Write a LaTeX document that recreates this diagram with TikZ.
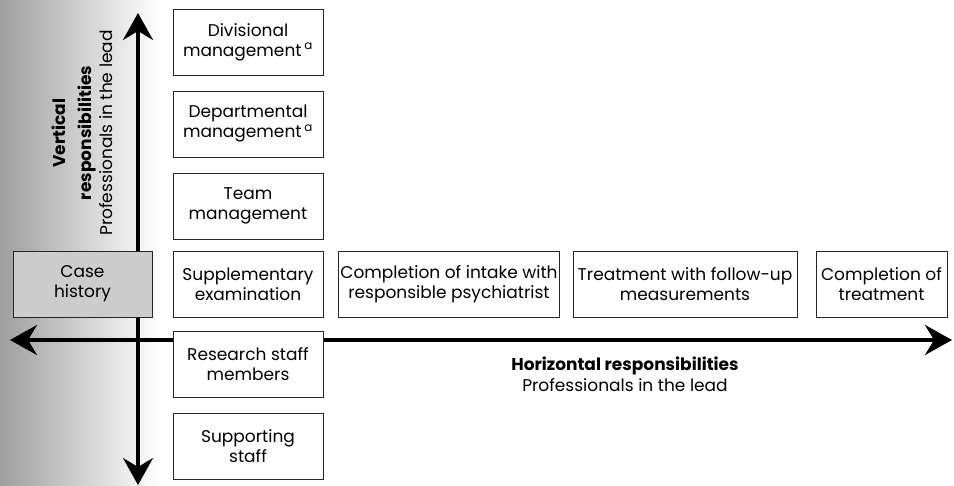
\documentclass[tikz,border=0pt]{standalone}
\usepackage{fontspec}
\setmainfont{Poppins}
\usetikzlibrary{arrows.meta}
\begin{document}
\begin{tikzpicture}[x=1pt,y=-1pt,
    box/.style={draw=black!85, line width=0.9pt, fill=white, align=center, inner sep=2pt,
      minimum height=66pt, font=\fontsize{17}{20}\selectfont},
    colbox/.style={box, minimum width=150pt},
    axis/.style={line width=3.5pt,
      {Stealth[length=27pt,width=30pt,inset=9pt]}-{Stealth[length=27pt,width=30pt,inset=9pt]}},
    axislabel/.style={align=center, font=\fontsize{17}{21}\selectfont}]
    \useasboundingbox (0,0) rectangle (954,486);
    % shadow of the page on the left
    \shade[left color=black!38, right color=white] (0,0) rectangle (160,486);
    \coordinate (vtop) at (138,13);
    \coordinate (vbot) at (138,485);
    \coordinate (hleft) at (10,340);
    \coordinate (hright) at (952,340);
    \draw[axis] (vtop) -- (vbot);
    \draw[axis] (hleft) -- (hright);
    % column of management levels
    \node[colbox] (divisional) at (248,42) {Divisional\\management\,\textsuperscript{a}};
    \node[colbox] (departmental) at (248,124) {Departmental\\management\,\textsuperscript{a}};
    \node[colbox] (team) at (248,206) {Team\\management};
    \node[colbox] (supplementary) at (248,284) {Supplementary\\examination};
    \node[colbox] (research) at (248,364) {Research staff\\members};
    \node[colbox] (supporting) at (248,446) {Supporting\\staff};
    % row of treatment steps
    \node[box, fill=black!20, minimum width=139pt] (casehistory) at (82.5,284) {Case\\history};
    \node[box, minimum width=214pt] (intake) at (449,284) {Completion of intake with\\responsible psychiatrist};
    \node[box, minimum width=224pt] (treatment) at (685,284) {Treatment with follow-up\\measurements};
    \node[box, minimum width=131pt] (completion) at (881.5,284) {Completion of\\treatment};
    % axis labels
    \node[axislabel] (hlabel) at (625,374) {\textbf{Horizontal responsibilities}\\Professionals in the lead};
    \node[axislabel, rotate=90] (vlabel) at (82,133) {\textbf{Vertical}\\[5pt]\textbf{responsibilities}\\Professionals in the lead};
\end{tikzpicture}
\end{document}
